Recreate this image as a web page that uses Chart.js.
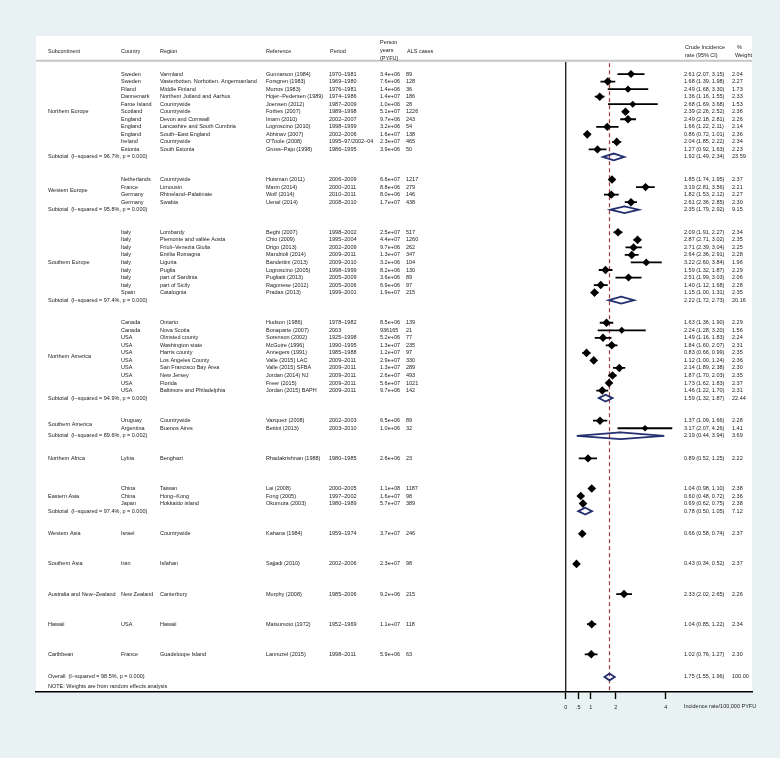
<!DOCTYPE html>
<html>
<head>
<meta charset="utf-8">
<script src="https://cdn.jsdelivr.net/npm/chart.js@4.4.0/dist/chart.umd.min.js"></script>
<style>
  html, body { margin: 0; padding: 0; background: #e9f2f3; }
</style>
</head>
<body>
<canvas id="forest" width="780" height="758"></canvas>
<script>
// ---- data ----
var groupNames = ['Northern Europe', 'Western Europe', 'Southern Europe', 'Northern America', 'Southern America',
  'Northern Africa', 'Eastern Asia', 'Western Asia', 'Southern Asia', 'Australia and New–Zealand', 'Hawaii', 'Caribbean'];
var groupSizes = [11, 4, 9, 10, 2, 1, 3, 1, 1, 1, 1, 1];

var countries = ['Sweden', 'Sweden', 'Filand', 'Dannemark', 'Faroe Island', 'Scotland', 'England', 'England', 'England', 'Ireland', 'Estonia',
  'Netherlands', 'France', 'Germany', 'Germany',
  'Italy', 'Italy', 'Italy', 'Italy', 'Italy', 'Italy', 'Italy', 'Italy', 'Spain',
  'Canada', 'Canada', 'USA', 'USA', 'USA', 'USA', 'USA', 'USA', 'USA', 'USA',
  'Uruguay', 'Argentina',
  'Lybia',
  'China', 'China', 'Japan',
  'Israel', 'Iran', 'New Zealand', 'USA', 'France'];
var regions = ['Varmland', 'Vasterbotten. Norbotten. Angermanland', 'Middle Finland', 'Northern Jutland and Aarhus', 'Countrywide', 'Countrywide',
  'Devon and Cornwall', 'Lancashire and South Cumbria', 'South–East England', 'Countrywide', 'South Estonia',
  'Countrywide', 'Limousin', 'Rhineland–Palatinate', 'Swabia',
  'Lombardy', 'Piemonte and vallée Aosta', 'Friuli–Venezia Giulia', 'Emilia Romagna', 'Liguria', 'Puglia', 'part of Sardinia', 'part of Sicily', 'Catalognia',
  'Ontario', 'Nova Scotia', 'Olmsted county', 'Washington state', 'Harris county', 'Los Angeles County', 'San Francisco Bay Area', 'New Jersey', 'Florida', 'Baltimore and Philadelphia',
  'Countrywide', 'Buenos Aires',
  'Benghazi',
  'Taiwan', 'Hong–Kong', 'Hokkaido island',
  'Countrywide', 'Isfahan', 'Canterbury', 'Hawaii', 'Guadeloupe Island'];
var references = ['Gunnarson (1984)', 'Forsgren (1983)', 'Murros (1983)', 'Hojer–Pedersen (1989)', 'Joensen (2012)', 'Forbes (2007)', 'Imam (2010)',
  'Logroscino (2010)', 'Abhinav (2007)', "O'Toole (2008)", 'Gross–Paju (1998)',
  'Huisman (2011)', 'Marin (2014)', 'Wolf (2014)', 'Uenal (2014)',
  'Beghi (2007)', 'Chio (2009)', 'Drigo (2013)', 'Mandrioli (2014)', 'Bandettini (2013)', 'Logroscino (2005)', 'Pugliatti (2013)', 'Ragonese (2012)', 'Pradas (2013)',
  'Hudson (1986)', 'Bonaparte (2007)', 'Sorenson (2002)', 'McGuire (1996)', 'Annegers (1991)', 'Valle (2015) LAC', 'Valle (2015) SFBA', 'Jordan (2014) NJ', 'Freer (2015)', 'Jordan (2015) BAPH',
  'Vazquez (2008)', 'Bettini (2013)',
  'Rhadakrishnan (1988)',
  'Lai (2008)', 'Fong (2005)', 'Okumura (2003)',
  'Kahana (1984)', 'Sajjadi (2010)', 'Murphy (2008)', 'Matsumoto (1972)', 'Lannuzel (2015)'];
var periods = ['1970–1981', '1969–1980', '1976–1981', '1974–1986', '1987–2009', '1989–1998', '2002–2007', '1998–1999', '2002–2006', '1995–97/2002–04', '1986–1995',
  '2006–2009', '2000–2011', '2010–2011', '2008–2010',
  '1998–2002', '1995–2004', '2002–2009', '2009–2011', '2009–2010', '1998–1999', '2005–2009', '2005–2006', '1999–2001',
  '1978–1982', '2003', '1925–1998', '1990–1995', '1985–1988', '2009–2011', '2009–2011', '2009–2011', '2009–2011', '2009–2011',
  '2002–2003', '2003–2010',
  '1980–1985',
  '2000–2005', '1997–2002', '1980–1989',
  '1959–1974', '2002–2006', '1985–2006', '1952–1969', '1998–2011'];
var personYears = ['3.4e+06', '7.6e+06', '1.4e+06', '1.4e+07', '1.0e+06', '5.1e+07', '9.7e+06', '3.2e+06', '1.6e+07', '2.3e+07', '3.9e+06',
  '6.6e+07', '8.8e+06', '8.0e+06', '1.7e+07',
  '2.5e+07', '4.4e+07', '9.7e+06', '1.3e+07', '3.2e+06', '8.2e+06', '3.6e+06', '6.9e+06', '1.9e+07',
  '8.5e+06', '936165', '5.2e+06', '1.3e+07', '1.2e+07', '2.9e+07', '1.3e+07', '2.6e+07', '5.6e+07', '9.7e+06',
  '6.5e+06', '1.0e+06',
  '2.6e+06',
  '1.1e+08', '1.6e+07', '5.7e+07',
  '3.7e+07', '2.3e+07', '9.2e+06', '1.1e+07', '5.9e+06'];
var alsCases = [89, 128, 36, 186, 28, 1226, 243, 54, 138, 465, 50,
  1217, 279, 146, 438,
  517, 1260, 262, 347, 104, 130, 89, 97, 215,
  139, 21, 77, 235, 97, 330, 289, 493, 1021, 142,
  89, 32,
  23,
  1187, 98, 389,
  246, 98, 215, 118, 63];
var rates = [2.61, 1.68, 2.49, 1.36, 2.68, 2.39, 2.49, 1.66, 0.86, 2.04, 1.27,
  1.85, 3.19, 1.82, 2.61,
  2.09, 2.87, 2.71, 2.64, 3.22, 1.59, 2.51, 1.40, 1.15,
  1.63, 2.24, 1.49, 1.84, 0.83, 1.12, 2.14, 1.87, 1.73, 1.46,
  1.37, 3.17,
  0.89,
  1.04, 0.60, 0.69,
  0.66, 0.43, 2.33, 1.04, 1.02];
var lower = [2.07, 1.39, 1.68, 1.16, 1.69, 2.26, 2.18, 1.22, 0.72, 1.85, 0.92,
  1.74, 2.81, 1.53, 2.36,
  1.91, 2.71, 2.39, 2.36, 2.60, 1.32, 1.99, 1.12, 1.00,
  1.36, 1.28, 1.16, 1.60, 0.66, 1.00, 1.89, 1.70, 1.62, 1.22,
  1.09, 2.07,
  0.52,
  0.98, 0.48, 0.62,
  0.58, 0.34, 2.02, 0.85, 0.76];
var upper = [3.15, 1.98, 3.30, 1.55, 3.68, 2.52, 2.81, 2.11, 1.01, 2.22, 1.63,
  1.95, 3.56, 2.12, 2.85,
  2.27, 3.02, 3.04, 2.91, 3.84, 1.87, 3.03, 1.68, 1.31,
  1.90, 3.20, 1.83, 2.07, 0.99, 1.24, 2.38, 2.03, 1.83, 1.70,
  1.66, 4.26,
  1.25,
  1.10, 0.72, 0.75,
  0.74, 0.52, 2.65, 1.22, 1.27];
var weights = [2.04, 2.27, 1.73, 2.33, 1.53, 2.36, 2.26, 2.14, 2.36, 2.34, 2.23,
  2.37, 2.21, 2.27, 2.30,
  2.34, 2.35, 2.25, 2.28, 1.96, 2.29, 2.06, 2.28, 2.35,
  2.29, 1.56, 2.24, 2.31, 2.35, 2.36, 2.30, 2.35, 2.37, 2.31,
  2.28, 1.41,
  2.22,
  2.38, 2.36, 2.38,
  2.37, 2.37, 2.26, 2.34, 2.30];

// subtotals per group (null = single study, no subtotal shown)
var subI2 = ['96.7%', '95.8%', '97.4%', '94.9%', '89.6%', null, '97.4%', null, null, null, null, null];
var subP = ['0.000', '0.000', '0.000', '0.000', '0.002', null, '0.000', null, null, null, null, null];
var subRates = [1.92, 2.35, 2.22, 1.59, 2.19, null, 0.78, null, null, null, null, null];
var subLower = [1.49, 1.79, 1.72, 1.32, 0.44, null, 0.50, null, null, null, null, null];
var subUpper = [2.34, 2.92, 2.73, 1.87, 3.94, null, 1.05, null, null, null, null, null];
var subWeights = [23.59, 9.15, 20.16, 22.44, 3.69, null, 7.12, null, null, null, null, null];

var overallEst = [1.75, 1.55, 1.96];
var overallWeight = 100.00;
var overallI2 = '98.5%';
var overallP = '0.000';

var xTicks = [0, 0.5, 1, 2, 4];
var xTickLabels = ['0', '.5', '1', '2', '4'];

// ---- layout helpers ----
var FONT = '"Liberation Sans", Arial, sans-serif';
var NAVY = '#232f6e';
var Y_MIN = -5.05, Y_MAX = 82.0;
var DH = 0.45; // half height of pooled diamonds, in rows

// row index of each study, subtotal and group label
var rowOf = [], subRow = [], groupMid = [], groupOfStudy = [];
var r = 0;
groupSizes.forEach(function (n, g) {
  var start = r;
  for (var i = 0; i < n; i++) { rowOf.push(r++); groupOfStudy.push(g); }
  groupMid.push((start + r - 1) / 2);
  subRow.push(r);
  r += 3;
});
var overallRow = r - 1;

function fmtCI(v, lo, hi) {
  return v.toFixed(2) + ' (' + lo.toFixed(2) + ', ' + hi.toFixed(2) + ')';
}

function pushDiamond(out, est, lo, hi, row) {
  out.push({x: lo, y: row}, {x: est, y: row - DH}, {x: hi, y: row}, {x: est, y: row + DH},
    {x: lo, y: row}, {x: est, y: row - DH}, {x: NaN, y: NaN});
}

var ciData = [], pointData = [], pooledData = [];
rates.forEach(function (v, i) {
  ciData.push({x: lower[i], y: rowOf[i]}, {x: upper[i], y: rowOf[i]}, {x: NaN, y: NaN});
  pointData.push({x: v, y: rowOf[i]});
});
subRates.forEach(function (v, g) {
  if (v !== null) pushDiamond(pooledData, v, subLower[g], subUpper[g], subRow[g]);
});
pushDiamond(pooledData, overallEst[0], overallEst[1], overallEst[2], overallRow);

// text columns, background and header drawn around the plot
var tablePlugin = {
  id: 'tablePlugin',
  beforeDraw: function (chart) {
    var ctx = chart.ctx, a = chart.chartArea;
    ctx.save();
    ctx.fillStyle = '#e9f2f3';
    ctx.fillRect(0, 0, chart.width, chart.height);
    ctx.fillStyle = '#ffffff';
    ctx.fillRect(a.left, a.top, a.right - a.left, a.bottom - a.top);
    // header rule
    var yh = chart.scales.y.getPixelForValue(-1.75);
    ctx.strokeStyle = '#c6c6c6';
    ctx.lineWidth = 2;
    ctx.beginPath();
    ctx.moveTo(a.left, yh);
    ctx.lineTo(a.right, yh);
    ctx.stroke();
    ctx.restore();
  },
  afterDraw: function (chart) {
    var ctx = chart.ctx, ys = chart.scales.y;
    ctx.save();
    ctx.font = '5.5px ' + FONT;
    ctx.fillStyle = '#1a1a1a';
    ctx.textBaseline = 'middle';
    function t(s, x, row) { ctx.fillText(s, x, ys.getPixelForValue(row)); }

    // header
    t('Subcontinent', 48, -3.0);
    t('Country', 121, -3.0);
    t('Region', 160, -3.0);
    t('Reference', 266, -3.0);
    t('Period', 330, -3.0);
    t('Person', 380, -4.15);
    t('years', 380, -3.1);
    t('(PYFU)', 380, -2.1);
    t('ALS cases', 407, -3.0);
    t('Crude Incidence', 685, -3.5);
    t('rate (95% CI)', 685, -2.5);
    t('%', 737, -3.5);
    t('Weight', 735, -2.5);

    groupNames.forEach(function (name, g) { t(name, 48, groupMid[g]); });
    rates.forEach(function (v, i) {
      var row = rowOf[i];
      t(countries[i], 121, row);
      t(regions[i], 160, row);
      t(references[i], 266, row);
      t(periods[i], 329, row);
      t(personYears[i], 380, row);
      t(String(alsCases[i]), 406, row);
      t(fmtCI(v, lower[i], upper[i]), 684, row);
      t(weights[i].toFixed(2), 732, row);
    });
    subRates.forEach(function (v, g) {
      if (v === null) return;
      t('Subtotal  (I–squared = ' + subI2[g] + ', p = ' + subP[g] + ')', 48, subRow[g]);
      t(fmtCI(v, subLower[g], subUpper[g]), 684, subRow[g]);
      t(subWeights[g].toFixed(2), 732, subRow[g]);
    });
    t('Overall  (I–squared = ' + overallI2 + ', p = ' + overallP + ')', 48, overallRow);
    t(fmtCI(overallEst[0], overallEst[1], overallEst[2]), 684, overallRow);
    t(overallWeight.toFixed(2), 732, overallRow);
    t('NOTE: Weights are from random effects analysis', 48, overallRow + 1.25);

    // axis title to the right of the ticks
    ctx.fillText('Incidence rate/100,000 PYFU', 684, 706);
    ctx.restore();
  }
};

var ctx = document.getElementById('forest');
var chart = new Chart(ctx, {
  type: 'scatter',
  data: {
    datasets: [
      {
        // study estimates
        data: pointData,
        pointStyle: 'rectRot',
        pointRadius: weights.map(function (w) { return 2.8 * Math.sqrt(w); }),
        backgroundColor: '#000',
        borderColor: '#000',
        borderWidth: 0,
        order: 1
      },
      {
        // confidence intervals
        data: ciData,
        showLine: true,
        pointRadius: 0,
        borderColor: '#000',
        borderWidth: 1.8,
        borderCapStyle: 'butt',
        order: 2
      },
      {
        // pooled diamonds
        data: pooledData,
        showLine: true,
        pointRadius: 0,
        borderColor: NAVY,
        borderWidth: 1.8,
        borderJoinStyle: 'miter',
        order: 3
      },
      {
        // overall estimate line
        data: [{x: overallEst[0], y: -1.45}, {x: overallEst[0], y: Y_MAX}],
        showLine: true,
        pointRadius: 0,
        borderColor: '#a6373c',
        borderWidth: 1.2,
        borderDash: [4, 3],
        order: 4
      },
      {
        // line of no effect
        data: [{x: 0, y: -1.6}, {x: 0, y: Y_MAX}],
        showLine: true,
        pointRadius: 0,
        borderColor: '#000',
        borderWidth: 1.2,
        order: 5
      }
    ]
  },
  options: {
    responsive: false,
    animation: false,
    devicePixelRatio: 1,
    events: [],
    layout: { padding: { left: 36, right: 28, top: 36, bottom: 0 } },
    plugins: { legend: { display: false }, tooltip: { enabled: false } },
    scales: {
      x: {
        type: 'linear',
        min: -21.19,
        max: 7.45,
        afterBuildTicks: function (s) { s.ticks = xTicks.map(function (v) { return {value: v}; }); },
        afterFit: function (s) { s.height = 66; },
        ticks: {
          autoSkip: false,
          maxRotation: 0,
          padding: 5,
          color: '#222',
          font: { size: 5.5, family: FONT },
          callback: function (v, i) { return xTickLabels[i]; }
        },
        grid: { drawOnChartArea: false, drawTicks: true, tickLength: 7, tickWidth: 1.4, tickColor: '#000' },
        border: { display: true, color: '#000', width: 1.4 }
      },
      y: {
        type: 'linear',
        display: false,
        min: Y_MIN,
        max: Y_MAX,
        reverse: true
      }
    }
  },
  plugins: [tablePlugin]
});
</script>
</body>
</html>
